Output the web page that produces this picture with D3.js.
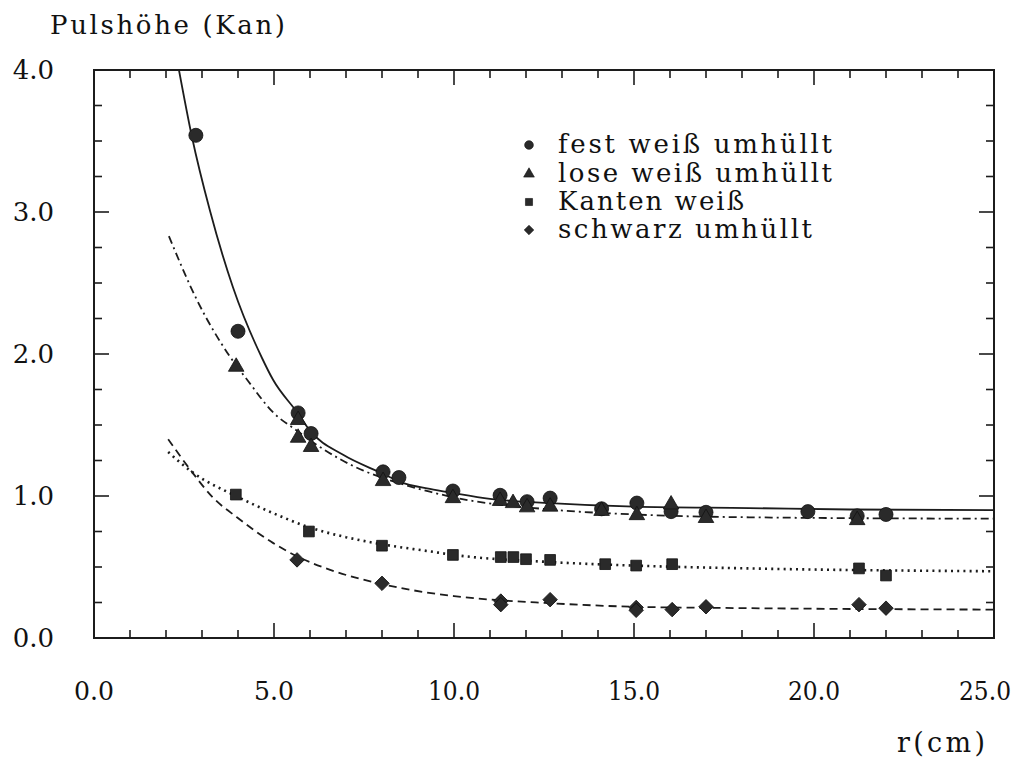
<!DOCTYPE html>
<html>
<head>
<meta charset="utf-8">
<script src="https://cdn.jsdelivr.net/npm/d3@7"></script>
<style>
  html, body { margin: 0; padding: 0; background: #fff; }
  svg { display: block; }
  text { font-family: "DejaVu Serif", "Liberation Serif", serif; fill: #111; }
</style>
</head>
<body>
<svg id="chart" width="1017" height="760"></svg>
<script>
// ---------- data ----------
const xTicks = [0, 5, 10, 15, 20, 25];
const xTickLabels = ["0.0", "5.0", "10.0", "15.0", "20.0", "25.0"];
const yTicks = [0, 1, 2, 3, 4];
const yTickLabels = ["0.0", "1.0", "2.0", "3.0", "4.0"];

const seriesNames = ["fest weiß umhüllt", "lose weiß umhüllt", "Kanten weiß", "schwarz umhüllt"];

// measured points
const festX = [2.83, 4.0, 5.67, 6.03, 8.03, 8.47, 9.97, 11.28, 12.03, 12.67, 14.1, 15.08, 16.03, 17.0, 19.83, 21.2, 22.0];
const festY = [3.54, 2.16, 1.585, 1.44, 1.17, 1.13, 1.035, 1.005, 0.96, 0.985, 0.91, 0.95, 0.89, 0.885, 0.89, 0.86, 0.87];

const loseX = [3.95, 5.67, 5.67, 6.03, 8.03, 9.97, 11.28, 11.64, 12.03, 12.67, 14.1, 15.08, 16.03, 17.0, 21.2];
const loseY = [1.91, 1.535, 1.41, 1.345, 1.105, 0.985, 0.965, 0.95, 0.92, 0.925, 0.895, 0.865, 0.94, 0.845, 0.83];

const kantenX = [3.94, 5.97, 8.0, 9.97, 11.3, 11.65, 12.0, 12.67, 14.2, 15.06, 16.06, 21.25, 22.0];
const kantenY = [1.01, 0.75, 0.65, 0.585, 0.57, 0.57, 0.555, 0.55, 0.52, 0.51, 0.52, 0.49, 0.44];

const schwarzX = [5.64, 8.0, 11.3, 11.3, 12.67, 15.06, 15.06, 16.06, 17.0, 21.25, 22.0];
const schwarzY = [0.55, 0.385, 0.26, 0.235, 0.27, 0.215, 0.195, 0.20, 0.22, 0.235, 0.21];

// fitted curves as drawn in the picture (sampled by eye)
const fitFestX = [2.36, 2.72, 3.22, 3.86, 4.67, 4.97, 5.64, 6.0, 6.92, 8.0, 8.5, 9.33, 10, 11, 12.67, 15, 18.2, 21, 25];
const fitFestY = [4.0, 3.53, 3.01, 2.47, 1.97, 1.82, 1.59, 1.46, 1.29, 1.16, 1.10, 1.05, 1.02, 0.98, 0.95, 0.925, 0.915, 0.905, 0.90];

const fitLoseX = [2.08, 2.86, 3.78, 4.28, 4.97, 5.64, 6.19, 7.47, 8.0, 9.33, 10, 12.67, 15, 18.2, 25];
const fitLoseY = [2.83, 2.38, 1.98, 1.81, 1.59, 1.46, 1.36, 1.18, 1.13, 1.03, 0.99, 0.905, 0.87, 0.85, 0.84];

const fitKantenX = [2.06, 2.72, 3.94, 4.97, 5.97, 7.0, 8.0, 9.33, 10, 12.67, 15, 18.2, 25];
const fitKantenY = [1.31, 1.17, 1.0, 0.88, 0.78, 0.71, 0.66, 0.61, 0.585, 0.535, 0.51, 0.49, 0.47];

const fitSchwarzX = [2.06, 2.72, 3.3, 3.97, 4.97, 5.64, 6.56, 8.0, 9.25, 10, 12.67, 15, 18.2, 25];
const fitSchwarzY = [1.40, 1.17, 0.99, 0.85, 0.67, 0.575, 0.48, 0.38, 0.32, 0.295, 0.245, 0.22, 0.21, 0.20];

// ---------- layout ----------
const svg = d3.select("#chart");
const L = 94, R = 994, T = 70, B = 638;
const x = d3.scaleLinear().domain([0, 25]).range([L, R]);
const y = d3.scaleLinear().domain([0, 4]).range([B, T]);
const ink = "#1c1c1c";

svg.append("defs").append("clipPath").attr("id", "plotclip")
  .append("rect").attr("x", L).attr("y", T).attr("width", R - L).attr("height", B - T);

// frame
svg.append("rect").attr("x", L).attr("y", T).attr("width", R - L).attr("height", B - T)
  .attr("fill", "none").attr("stroke", ink).attr("stroke-width", 2);

// ticks (inward on all four sides)
const xMinor = d3.range(0, 25.001, 1);
const yMinor = d3.range(0, 4.001, 0.25);
const tickG = svg.append("g").attr("stroke", ink).attr("stroke-width", 1.6);
xMinor.forEach(v => {
  const major = Math.abs(v % 5) < 1e-6;
  const len = major ? 15 : 8;
  tickG.append("line").attr("x1", x(v)).attr("x2", x(v)).attr("y1", B).attr("y2", B - len);
  tickG.append("line").attr("x1", x(v)).attr("x2", x(v)).attr("y1", T).attr("y2", T + len);
});
yMinor.forEach(v => {
  const major = Math.abs(v % 1) < 1e-6;
  const len = major ? 15 : 8;
  tickG.append("line").attr("x1", L).attr("x2", L + len).attr("y1", y(v)).attr("y2", y(v));
  tickG.append("line").attr("x1", R).attr("x2", R - len).attr("y1", y(v)).attr("y2", y(v));
});

// tick labels
svg.append("g").selectAll("text").data(xTicks).join("text")
  .attr("x", d => Math.min(x(d), 1011 - (d >= 10 ? 26 : 20)))
  .attr("y", 700).attr("text-anchor", "middle")
  .attr("font-size", 26)
  .attr("textLength", d => d >= 10 ? 52 : 40).attr("lengthAdjust", "spacingAndGlyphs")
  .text((d, i) => xTickLabels[i]);
svg.append("g").selectAll("text").data(yTicks).join("text")
  .attr("x", 54).attr("y", d => y(d) + 9).attr("text-anchor", "end")
  .attr("font-size", 26).text((d, i) => yTickLabels[i]);

// axis titles
svg.append("text").attr("x", 50).attr("y", 34).attr("font-size", 26)
  .attr("textLength", 235).attr("lengthAdjust", "spacing").text("Pulshöhe (Kan)");
svg.append("text").attr("x", 897).attr("y", 752).attr("font-size", 27)
  .attr("textLength", 88).attr("lengthAdjust", "spacing").text("r(cm)");

// curves
const line = d3.line().x(d => x(d[0])).y(d => y(d[1])).curve(d3.curveMonotoneX);
const curves = [
  { xs: fitFestX, ys: fitFestY, dash: null },
  { xs: fitLoseX, ys: fitLoseY, dash: "8,4,2,4" },
  { xs: fitKantenX, ys: fitKantenY, dash: "2,4.2" },
  { xs: fitSchwarzX, ys: fitSchwarzY, dash: "8,5" }
];
const cg = svg.append("g").attr("clip-path", "url(#plotclip)");
curves.forEach(c => {
  cg.append("path").datum(c.xs.map((v, i) => [v, c.ys[i]]))
    .attr("d", line).attr("fill", "none").attr("stroke", ink)
    .attr("stroke-width", c.dash === "2,4.2" ? 2.6 : 1.8)
    .attr("stroke-dasharray", c.dash);
});

// markers
const symCircle = d3.symbol().type(d3.symbolCircle);
const symTri = d3.symbol().type(d3.symbolTriangle);
const symSq = d3.symbol().type(d3.symbolSquare);
const markerSets = [
  { xs: festX, ys: festY, gen: symCircle, size: 155, rot: 0 },
  { xs: loseX, ys: loseY, gen: symTri, size: 105, rot: 0 },
  { xs: kantenX, ys: kantenY, gen: symSq, size: 115, rot: 0 },
  { xs: schwarzX, ys: schwarzY, gen: symSq, size: 105, rot: 45 }
];
const mg = svg.append("g");
markerSets.forEach(s => {
  mg.append("g").selectAll("path").data(s.xs.map((v, i) => [v, s.ys[i]])).join("path")
    .attr("d", s.gen.size(s.size)())
    .attr("transform", d => `translate(${x(d[0])},${y(d[1])}) rotate(${s.rot})`)
    .attr("fill", "#2a2a2a").attr("stroke", "#111").attr("stroke-width", 0.8);
});

// legend
const legBase = [153, 182, 210, 238];
const legSizes = [60, 50, 50, 45];
const legLen = [274, 274, 186, 254];
const lg = svg.append("g");
seriesNames.forEach((name, i) => {
  const s = markerSets[i];
  lg.append("path").attr("d", s.gen.size(legSizes[i])())
    .attr("transform", `translate(529,${legBase[i] - 8}) rotate(${s.rot})`)
    .attr("fill", "#2a2a2a").attr("stroke", "#111").attr("stroke-width", 0.6);
  lg.append("text").attr("x", 558).attr("y", legBase[i]).attr("font-size", 26)
    .attr("textLength", legLen[i]).attr("lengthAdjust", "spacing").text(name);
});
</script>
</body>
</html>
